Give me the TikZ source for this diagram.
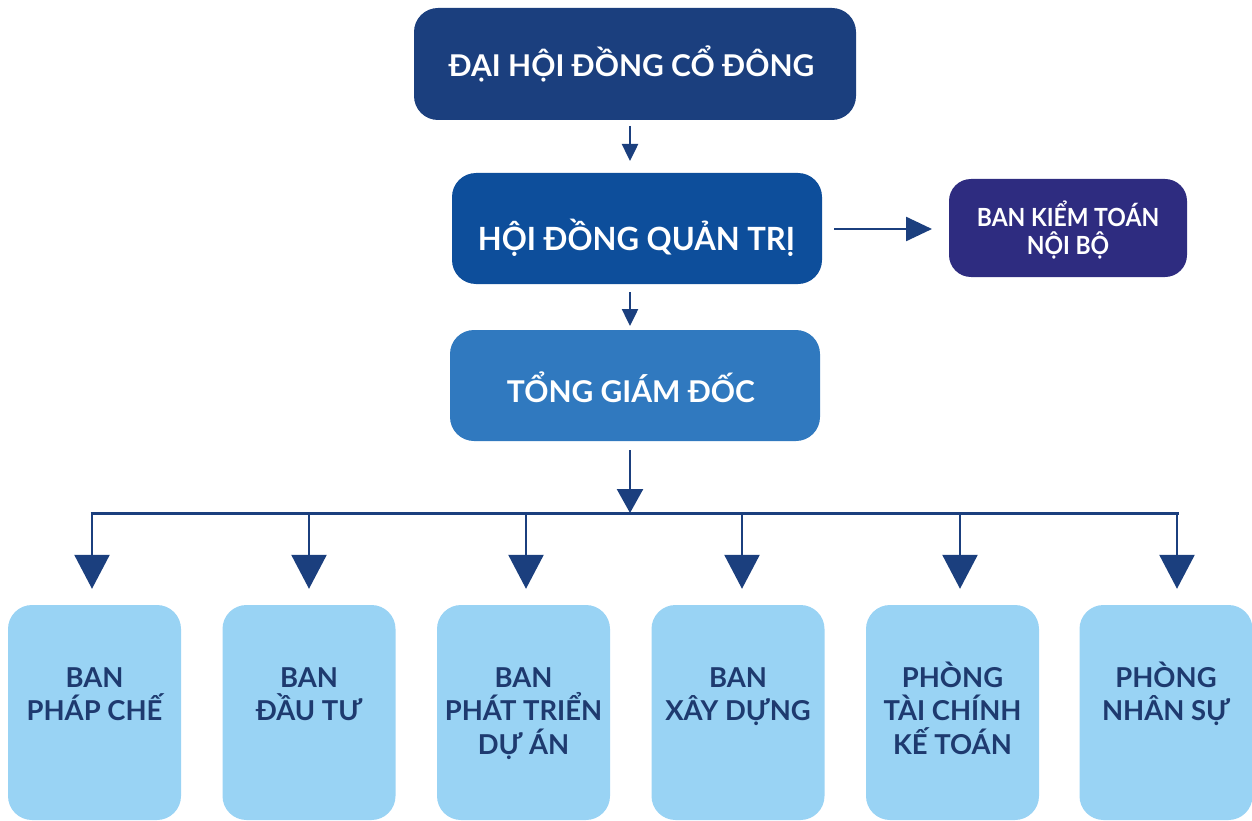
\documentclass[tikz,border=0pt]{standalone}
\usepackage{fontspec}
\setmainfont{Lato}
\usetikzlibrary{arrows.meta}
\definecolor{cTop}{HTML}{1B3F7E}
\definecolor{cBoard}{HTML}{0D4E9B}
\definecolor{cAudit}{HTML}{2E2C80}
\definecolor{cCeo}{HTML}{3079BF}
\definecolor{cDept}{HTML}{99D3F4}
\definecolor{cLine}{HTML}{1B3F7E}
\definecolor{cDeptText}{HTML}{1E3A6F}
\newcommand{\fl}[1]{\smash{#1}}
\begin{document}
\begin{tikzpicture}[x=1pt,y=-1pt,
  box/.style={rounded corners=24pt, inner sep=0pt, draw=none},
  toptext/.style={text=white, font=\bfseries\fontsize{30}{36}\selectfont, inner sep=0pt, anchor=base},
  boardtext/.style={text=white, font=\bfseries\fontsize{32}{38}\selectfont, inner sep=0pt, anchor=base},
  smalltext/.style={text=white, font=\bfseries\fontsize{25}{28}\selectfont, inner sep=0pt, align=center, anchor=north},
  depttext/.style={text=cDeptText, font=\bfseries\fontsize{27.4}{33.5}\selectfont, inner sep=0pt, align=center, anchor=north},
  dept/.style={box, fill=cDept, minimum width=173pt, minimum height=215pt},
  arrsmall/.style={draw=cLine, line width=2.5pt, -{Triangle[width=16pt,length=17pt]}},
  arrmid/.style={draw=cLine, line width=2.5pt, -{Triangle[width=24pt,length=26pt]}},
  arrbig/.style={draw=cLine, line width=2.5pt, -{Triangle[width=26pt,length=24pt]}},
  arrbranch/.style={draw=cLine, line width=2.5pt, -{Triangle[width=35pt,length=34pt]}},
  bus/.style={draw=cLine, line width=3pt}
]
\useasboundingbox (0,0) rectangle (1252,821);

% boxes
\node[box, fill=cTop, minimum width=442pt, minimum height=112pt] (dh) at (635,64) {};
\node[box, fill=cBoard, minimum width=370pt, minimum height=111pt] (hd) at (637,228.5) {};
\node[box, fill=cAudit, minimum width=238pt, minimum height=98pt, rounded corners=22pt] (kt) at (1068,228) {};
\node[box, fill=cCeo, minimum width=370pt, minimum height=111pt] (tg) at (635,385.5) {};

\node[toptext] (dht) at (631.5,77) {ĐẠI HỘI ĐỒNG CỔ ĐÔNG};
\node[boardtext] (hdt) at (636.5,250) {\scalebox{0.97}[1]{HỘI ĐỒNG QUẢN TRỊ}};
\node[smalltext] (ktt) at (1068,226) {\scalebox{0.92}[1]{\fl{BAN KIỂM TOÁN}}\\\scalebox{0.92}[1]{NỘI BỘ}};
\node[toptext] (tgt) at (631,402) {TỔNG GIÁM ĐỐC};

% department boxes
\node[dept] (b1) at (94.5,712.5) {};
\node[dept] (b2) at (309,712.5) {};
\node[dept] (b3) at (523.5,712.5) {};
\node[dept] (b4) at (738,712.5) {};
\node[dept] (b5) at (952.5,712.5) {};
\node[dept] (b6) at (1166,712.5) {};

\node[depttext] (t1) at (94.5,687) {\fl{BAN}\\PHÁP CHẾ};
\node[depttext] (t2) at (309,687) {\fl{BAN}\\ĐẦU TƯ};
\node[depttext] (t3) at (523.5,687) {\fl{BAN}\\PHÁT TRIỂN\\DỰ ÁN};
\node[depttext] (t4) at (738,687) {\fl{BAN}\\XÂY DỰNG};
\node[depttext] (t5) at (952.5,687) {\fl{PHÒNG}\\TÀI CHÍNH\\KẾ TOÁN};
\node[depttext] (t6) at (1166,687) {\fl{PHÒNG}\\NHÂN SỰ};

% connector coordinates
\coordinate (a1s) at (630,126);
\coordinate (a1e) at (630,161);
\coordinate (a2s) at (630,292);
\coordinate (a2e) at (630,326);
\coordinate (a3s) at (630,450);
\coordinate (bus) at (630,513);
\coordinate (r1) at (834,229);
\coordinate (r2) at (932,229);
\coordinate (p1) at (92,513);
\coordinate (p2) at (309,513);
\coordinate (p3) at (526,513);
\coordinate (p4) at (742,513);
\coordinate (p5) at (960,513);
\coordinate (p6) at (1177,513);

\draw[arrsmall] (a1s) -- (a1e);
\draw[arrsmall] (a2s) -- (a2e);
\draw[arrmid] (r1) -- (r2);
\draw[bus] ([xshift=-1.5pt]p1) -- ([xshift=1.5pt]p6);
\draw[arrbig] (a3s) -- (bus);
\foreach \i in {1,...,6}{
  \draw[arrbranch] (p\i) -- ([yshift=16pt]p\i |- b\i.north);
}
\end{tikzpicture}
\end{document}
